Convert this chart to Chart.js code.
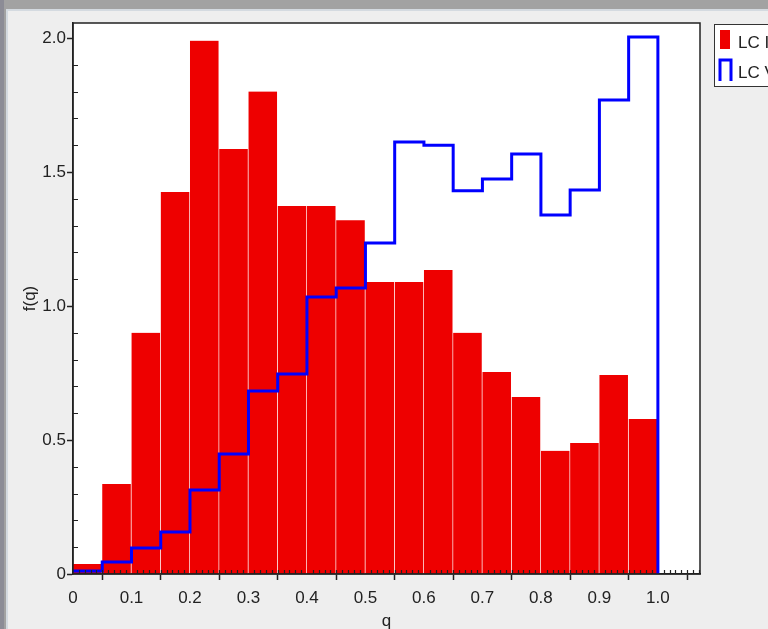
<!DOCTYPE html>
<html>
<head>
<meta charset="utf-8">
<script src="https://cdn.jsdelivr.net/npm/chart.js@4"></script>
<style>
  html, body { margin: 0; padding: 0; background: #a0a0a0; }
  #wrap { width: 768px; height: 629px; }
</style>
</head>
<body>
<div id="wrap"><canvas id="chart" width="768" height="629"></canvas></div>
<script>
// bins of width 0.05, left edges
const binStarts = [0, 0.05, 0.1, 0.15, 0.2, 0.25, 0.3, 0.35, 0.4, 0.45,
                   0.5, 0.55, 0.6, 0.65, 0.7, 0.75, 0.8, 0.85, 0.9, 0.95];
const binWidth = 0.05;

// LC I histogram (red bars)
const lcIValues = [0.037, 0.336, 0.90, 1.425, 1.99, 1.586, 1.80, 1.373, 1.373, 1.32,
                   1.09, 1.09, 1.134, 0.90, 0.754, 0.66, 0.46, 0.489, 0.743, 0.578];

// LC V histogram (blue step outline)
const lcVValues = [0.011, 0.045, 0.097, 0.157, 0.313, 0.448, 0.683, 0.746, 1.034, 1.067,
                   1.235, 1.612, 1.60, 1.43, 1.474, 1.567, 1.34, 1.433, 1.769, 2.004];

const seriesNames = ["LC I", "LC V"];
const xTickValues = [0, 0.1, 0.2, 0.3, 0.4, 0.5, 0.6, 0.7, 0.8, 0.9, 1.0];
const yTickValues = [0, 0.5, 1.0, 1.5, 2.0];

const FONT = "'Liberation Sans Narrow', 'Liberation Sans', Arial, sans-serif";

// bars centred on their bins
const barPoints = binStarts.map((x, i) => ({ x: x + binWidth / 2, y: lcIValues[i] }));

// step outline: start of each bin, then close at the right edge down to 0
const stepPoints = binStarts.map((x, i) => ({ x: x, y: lcVValues[i] }));
const lastEdge = binStarts[binStarts.length - 1] + binWidth;
stepPoints.push({ x: lastEdge, y: lcVValues[lcVValues.length - 1] });
stepPoints.push({ x: lastEdge, y: 0 });

const fmt = v => (v === 0 ? "0" : v.toFixed(1));

// window frame + panel background
const framePlugin = {
  id: "frame",
  beforeDraw(chart) {
    const ctx = chart.ctx;
    ctx.save();
    ctx.fillStyle = "#a2a2a2";
    ctx.fillRect(0, 0, 768, 629);
    ctx.fillStyle = "#8c8c96";
    ctx.fillRect(0, 0, 4, 629);
    ctx.fillStyle = "#d4dae0";
    ctx.fillRect(6, 9, 762, 620);
    ctx.fillStyle = "#eeeeee";
    ctx.fillRect(8, 11, 760, 618);
    const a = chart.chartArea;
    ctx.fillStyle = "#ffffff";
    ctx.fillRect(a.left, a.top, a.right - a.left, a.bottom - a.top);
    ctx.restore();
  },
  afterDraw(chart) {
    const ctx = chart.ctx;
    const a = chart.chartArea;
    const xs = chart.scales.x, ys = chart.scales.y;
    ctx.save();
    ctx.strokeStyle = "#222";
    ctx.lineWidth = 1.5;
    ctx.strokeRect(a.left, a.top, a.right - a.left, a.bottom - a.top);
    // minor ticks, inside
    ctx.lineWidth = 1.2;
    ctx.beginPath();
    for (let i = 1; i * 0.01 <= xs.max; i++) {
      if (i % 10 === 0) continue;
      const px = Math.round(xs.getPixelForValue(i * 0.01)) + 0.5;
      ctx.moveTo(px, a.bottom);
      ctx.lineTo(px, a.bottom - 4);
    }
    for (let j = 1; j * 0.1 <= ys.max; j++) {
      if (j % 5 === 0) continue;
      const py = Math.round(ys.getPixelForValue(j * 0.1)) + 0.5;
      ctx.moveTo(a.left, py);
      ctx.lineTo(a.left + 5, py);
    }
    ctx.stroke();

    // legend box, runs off the right edge
    const lx = 714, ly = 24;
    ctx.fillStyle = "#ffffff";
    ctx.fillRect(lx, ly, 80, 62);
    ctx.strokeStyle = "#333";
    ctx.lineWidth = 1;
    ctx.strokeRect(lx + 0.5, ly + 0.5, 80, 62);
    const ds = chart.data.datasets;
    const barDs = ds.find(d => d.type === "bar");
    const lineDs = ds.find(d => d.type === "line");
    ctx.fillStyle = barDs.backgroundColor;
    ctx.fillRect(720, 30, 10, 19);
    ctx.strokeStyle = lineDs.borderColor;
    ctx.lineWidth = 3;
    ctx.beginPath();
    ctx.moveTo(720, 81);
    ctx.lineTo(720, 60);
    ctx.lineTo(731, 60);
    ctx.lineTo(731, 81);
    ctx.stroke();
    ctx.fillStyle = "#222";
    ctx.font = "17px " + FONT;
    ctx.textBaseline = "middle";
    ctx.fillText(barDs.label, 738, 43);
    ctx.fillText(lineDs.label, 738, 73);
    ctx.restore();
  }
};

new Chart(document.getElementById("chart"), {
  data: {
    datasets: [
      {
        type: "line",
        label: seriesNames[1],
        data: stepPoints,
        stepped: "before",
        borderColor: "#0000ff",
        borderWidth: 3,
        pointRadius: 0,
        fill: false,
        order: 0
      },
      {
        type: "bar",
        label: seriesNames[0],
        data: barPoints,
        backgroundColor: "#ee0000",
        borderColor: "#ffffff",
        borderWidth: { left: 0, right: 1, top: 0, bottom: 0 },
        borderSkipped: false,
        barPercentage: 1.0,
        categoryPercentage: 1.0,
        order: 1
      }
    ]
  },
  options: {
    responsive: false,
    animation: false,
    events: [],
    layout: { padding: { top: 23, right: 68, left: 0, bottom: 0 } },
    plugins: { legend: { display: false }, tooltip: { enabled: false } },
    scales: {
      x: {
        type: "linear",
        min: 0,
        max: 1.072,
        offset: false,
        afterBuildTicks: s => { s.ticks = xTickValues.map(v => ({ value: v })); },
        afterFit: s => { s.height = 55; },
        grid: { drawOnChartArea: false, tickLength: 6, tickColor: "#222", tickWidth: 1.5 },
        border: { color: "#222", width: 1.5 },
        ticks: {
          autoSkip: false,
          maxRotation: 0,
          padding: 8,
          color: "#222",
          font: { family: FONT, size: 17 },
          callback: v => fmt(v)
        },
        title: {
          display: true,
          text: "q",
          color: "#222",
          font: { family: FONT, size: 17 },
          padding: { top: 0, bottom: -3 }
        }
      },
      y: {
        type: "linear",
        min: 0,
        max: 2.056,
        afterBuildTicks: s => { s.ticks = yTickValues.map(v => ({ value: v })); },
        afterFit: s => { s.width = 73; },
        grid: { drawOnChartArea: false, tickLength: 6, tickColor: "#222", tickWidth: 1.5 },
        border: { color: "#222", width: 1.5 },
        ticks: {
          padding: 1,
          color: "#222",
          font: { family: FONT, size: 17 },
          callback: v => fmt(v)
        },
        title: {
          display: true,
          text: "f(q)",
          color: "#222",
          font: { family: FONT, size: 17 },
          padding: { top: 20, bottom: 0 }
        }
      }
    }
  },
  plugins: [framePlugin]
});
</script>
</body>
</html>
